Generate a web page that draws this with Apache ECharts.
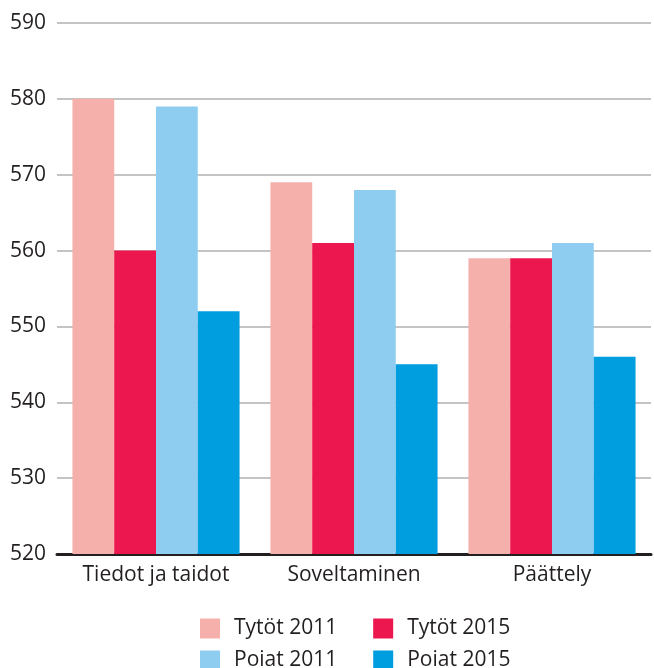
<!DOCTYPE html>
<html>
<head>
<meta charset="utf-8">
<script src="https://cdn.jsdelivr.net/npm/echarts@6/dist/echarts.min.js"></script>
<style>
  html, body { margin: 0; padding: 0; background: #fff; }
  #chart { width: 654px; height: 668px; }
</style>
</head>
<body>
<div id="chart"></div>
<script>
var categories = ["Tiedot ja taidot", "Soveltaminen", "Päättely"];
var seriesNames = ["Tytöt 2011", "Tytöt 2015", "Poiat 2011", "Poiat 2015"];
var tytot2011 = [580, 569, 559];
var tytot2015 = [560, 561, 559];
var poiat2011 = [579, 568, 561];
var poiat2015 = [552, 545, 546];
var colors = ["#f6b0ac", "#ec174f", "#8fcdf0", "#009ddf"];

var chart = echarts.init(document.getElementById("chart"));
var font = "Open Sans";
var values = [tytot2011, tytot2015, poiat2011, poiat2015];

// legenda kahdessa rivissä
function makeLegend(names, top) {
    return {
        data: names,
        left: 195,
        top: top,
        itemWidth: 20,
        itemHeight: 20,
        itemGap: 36,
        icon: "rect",
        textStyle: {
            fontFamily: font,
            fontSize: 21,
            color: "#231f20",
            padding: [0, 0, 0, 9]
        }
    };
}

chart.setOption({
    animation: false,
    color: colors,
    legend: [
        makeLegend(["Tytöt 2011", "Tytöt 2015"], 613),
        makeLegend(["Poiat 2011", "Poiat 2015"], 645)
    ],
    grid: {
        left: 57,
        right: 3,
        top: 23,
        bottom: 114,
        containLabel: false
    },
    xAxis: {
        type: "category",
        data: categories,
        axisTick: { show: false },
        axisLine: { lineStyle: { color: "#231f20", width: 3 } },
        axisLabel: {
            fontFamily: font,
            fontSize: 21,
            color: "#231f20",
            margin: 11
        }
    },
    yAxis: {
        type: "value",
        min: 520,
        max: 590,
        interval: 10,
        axisLine: { show: false },
        axisTick: { show: false },
        splitLine: { lineStyle: { color: "#c4c4c4", width: 2 } },
        axisLabel: {
            fontFamily: font,
            fontSize: 21,
            color: "#231f20",
            margin: 11
        }
    },
    series: seriesNames.map(function (name, i) {
        return {
            name: name,
            type: "bar",
            data: values[i],
            barGap: "0%",
            barCategoryGap: "15.6%"
        };
    })
});
</script>
</body>
</html>
